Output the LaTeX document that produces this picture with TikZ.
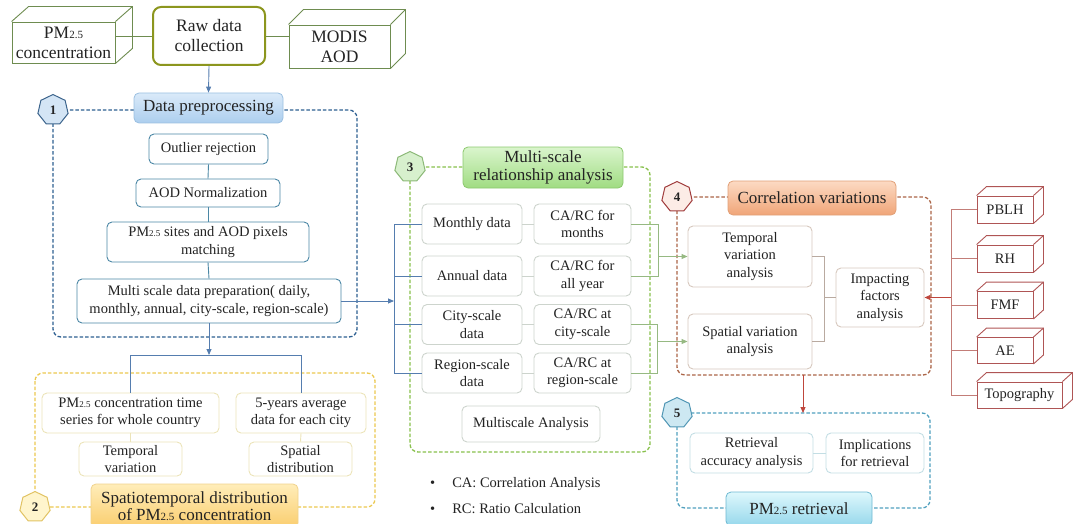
\documentclass[tikz,border=0pt]{standalone}
\usepackage{fontspec}
\setmainfont{Liberation Serif}
\usetikzlibrary{shapes.geometric,arrows.meta,calc}

\definecolor{txt}{RGB}{35,35,35}
\definecolor{c1}{RGB}{45,95,145}
\definecolor{b1c}{RGB}{75,135,165}
\definecolor{bl}{RGB}{85,125,175}
\definecolor{h1t}{RGB}{218,234,249}
\definecolor{h1b}{RGB}{172,206,238}
\definecolor{h1d}{RGB}{155,192,225}
\definecolor{x1f}{RGB}{212,229,245}
\definecolor{x1d}{RGB}{60,100,140}
\definecolor{c2}{RGB}{235,200,80}
\definecolor{b2c}{RGB}{236,228,185}
\definecolor{h2t}{RGB}{255,237,185}
\definecolor{h2b}{RGB}{250,205,110}
\definecolor{h2d}{RGB}{240,210,140}
\definecolor{x2f}{RGB}{255,245,205}
\definecolor{x2d}{RGB}{225,195,100}
\definecolor{c3}{RGB}{135,192,75}
\definecolor{b3c}{RGB}{205,212,205}
\definecolor{h3t}{RGB}{218,245,205}
\definecolor{h3b}{RGB}{160,220,130}
\definecolor{h3d}{RGB}{140,200,110}
\definecolor{x3f}{RGB}{215,240,205}
\definecolor{x3d}{RGB}{140,185,120}
\definecolor{gl}{RGB}{150,185,130}
\definecolor{c4}{RGB}{170,100,70}
\definecolor{b4c}{RGB}{215,200,190}
\definecolor{h4t}{RGB}{252,218,195}
\definecolor{h4b}{RGB}{240,165,120}
\definecolor{h4d}{RGB}{225,160,120}
\definecolor{x4f}{RGB}{252,236,230}
\definecolor{x4d}{RGB}{160,60,60}
\definecolor{brl}{RGB}{185,170,160}
\definecolor{fc}{RGB}{175,85,85}
\definecolor{rl}{RGB}{195,125,120}
\definecolor{rd}{RGB}{190,70,60}
\definecolor{c5}{RGB}{80,160,190}
\definecolor{b5c}{RGB}{195,222,228}
\definecolor{h5t}{RGB}{222,248,252}
\definecolor{h5b}{RGB}{150,215,235}
\definecolor{h5d}{RGB}{110,185,210}
\definecolor{x5f}{RGB}{205,232,242}
\definecolor{x5d}{RGB}{80,150,180}
\definecolor{olv}{RGB}{140,150,30}
\definecolor{cgr}{RGB}{110,140,80}

\newcommand{\pms}[1]{PM{\fontsize{#1}{#1}\selectfont 2.5}}
\newcommand{\boxdepth}[4]{%
  \draw[#4] (#1.north west) -- ++(#2,-#3) -- ($(#1.north east)+(#2,-#3)$) -- ($(#1.south east)+(#2,-#3)$) -- (#1.south east);
  \draw[#4] (#1.north east) -- ++(#2,-#3);}

\tikzset{
  base/.style={rounded corners=5pt, align=center, inner sep=1pt, fill=white, text=txt,
    font=\fontsize{14.5}{17.5}\selectfont, line width=0.9pt},
  bA/.style={base, draw=b1c},
  bB/.style={base, draw=b2c},
  bC/.style={base, draw=b3c},
  bD/.style={base, draw=b4c},
  bE/.style={base, draw=b5c},
  hdr/.style={rounded corners=5pt, align=center, inner sep=1pt, text=txt,
    font=\fontsize{17}{18.5}\selectfont, line width=0.8pt},
  hex/.style={regular polygon, regular polygon sides=7, minimum size=31pt, inner sep=0pt,
    line width=1pt, font=\bfseries\fontsize{13}{13}\selectfont, text=txt},
  cont/.style={dash pattern=on 3.5pt off 2pt, line width=1.3pt, rounded corners=8pt},
  tip/.style={-{Triangle[length=6pt,width=5pt]}},
  ln/.style={line width=0.9pt},
  cube/.style={draw=#1, line width=0.9pt, inner sep=1pt, align=center, text=txt},
}

\begin{document}
\begin{tikzpicture}[x=1pt,y=-1pt]
\useasboundingbox (0,0) rectangle (1081,524);
\clip (0,0) rectangle (1081,524);

% ---------- containers ----------
\draw[cont, draw=c1] (53,110) rectangle (357,337);
\draw[cont, draw=c2] (35,373) rectangle (375,507);
\draw[cont, draw=c3] (410,167) rectangle (650,452);
\draw[cont, draw=c4] (677,197) rectangle (931,375);
\draw[cont, draw=c5] (677,413) rectangle (930,508);

% ---------- top row ----------
\node[cube=cgr, minimum width=103pt, minimum height=41pt, font=\fontsize{17.5}{20}\selectfont] (pm) at (63.5,42.5) {\pms{11}\\concentration};
\boxdepth{pm}{17}{15}{cgr, line width=0.9pt}
\node[draw=olv, line width=2pt, rounded corners=8pt, fill=white, align=center, text=txt,
  minimum width=112pt, minimum height=58pt, inner sep=1pt, font=\fontsize{17.5}{20}\selectfont] (raw) at (209,36) {Raw data\\collection};
\node[cube=cgr, minimum width=101pt, minimum height=43pt, font=\fontsize{17.5}{20}\selectfont] (modis) at (339.5,46.5) {MODIS\\AOD};
\boxdepth{modis}{15}{15}{cgr, line width=0.9pt}

% ---------- block 1 ----------
\node[hdr, draw=h1d, top color=h1t, bottom color=h1b, minimum width=149pt, minimum height=30pt] (hdr1) at (208.5,108) {Data preprocessing};
\node[hex, draw=x1d, fill=x1f] (hx1) at (53,110) {1};
\node[bA, minimum width=119pt, minimum height=30pt] (out) at (208.5,149) {Outlier rejection};
\node[bA, minimum width=144pt, minimum height=28pt] (aod) at (208,193) {AOD Normalization};
\node[bA, minimum width=202pt, minimum height=40pt] (match) at (208,242) {\pms{9} sites and AOD pixels\\matching};
\node[bA, minimum width=264pt, minimum height=44pt] (multi) at (209,301) {Multi scale data preparation( daily,\\monthly, annual, city-scale, region-scale)};

% ---------- block 2 ----------
\node[hdr, draw=h2d, top color=h2t, bottom color=h2b, minimum width=207pt, minimum height=44pt,
  font=\fontsize{17}{17}\selectfont] (hdr2) at (194.5,506) {Spatiotemporal distribution\\of \pms{11} concentration};
\node[hex, draw=x2d, fill=x2f] (hx2) at (35,507) {2};
\node[bB, minimum width=177pt, minimum height=40pt] (ts) at (130.5,413) {\pms{9} concentration time\\series for whole country};
\node[bB, minimum width=130pt, minimum height=40pt] (avg) at (301,413) {5-years average\\data for each city};
\node[bB, minimum width=103pt, minimum height=34pt] (tv) at (130.5,459) {Temporal\\variation};
\node[bB, minimum width=103pt, minimum height=34pt] (sd) at (300.5,459) {Spatial\\distribution};

% ---------- block 3 ----------
\node[hdr, draw=h3d, top color=h3t, bottom color=h3b, minimum width=160pt, minimum height=41pt] (hdr3) at (543,167.5) {Multi-scale\\relationship analysis};
\node[hex, draw=x3d, fill=x3f] (hx3) at (410,167) {3};
\node[bC, minimum width=100pt, minimum height=40pt] (md) at (472,224) {Monthly data};
\node[bC, minimum width=97pt, minimum height=40pt] (cm) at (582.5,224) {CA/RC for\\months};
\node[bC, minimum width=100pt, minimum height=40pt] (ad) at (472,276) {Annual data};
\node[bC, minimum width=97pt, minimum height=40pt] (cy) at (582.5,276) {CA/RC for\\all year};
\node[bC, minimum width=100pt, minimum height=40pt] (csd) at (472,324.5) {City-scale\\data};
\node[bC, minimum width=97pt, minimum height=40pt] (cc) at (582.5,324.5) {CA/RC at\\city-scale};
\node[bC, minimum width=100pt, minimum height=40pt] (rsd) at (472,373) {Region-scale\\data};
\node[bC, minimum width=97pt, minimum height=40pt] (cr) at (582.5,373) {CA/RC at\\region-scale};
\node[bC, minimum width=138pt, minimum height=36pt] (ma) at (531,424) {Multiscale Analysis};

\node[anchor=west, inner sep=0pt, text=txt, font=\fontsize{14.5}{17.5}\selectfont] (ca) at (430,484) {\textbullet\hspace{17pt}CA: Correlation Analysis};
\node[anchor=west, inner sep=0pt, text=txt, font=\fontsize{14.5}{17.5}\selectfont] (rc) at (430,509) {\textbullet\hspace{17pt}RC: Ratio Calculation};

% ---------- block 4 ----------
\node[hdr, draw=h4d, top color=h4t, bottom color=h4b, minimum width=168pt, minimum height=34pt] (hdr4) at (812,198) {Correlation variations};
\node[hex, draw=x4d, fill=x4f] (hx4) at (677,197) {4};
\node[bD, minimum width=124pt, minimum height=61pt] (tva) at (750,256.5) {Temporal\\variation\\analysis};
\node[bD, minimum width=124pt, minimum height=55pt] (sva) at (750,341.5) {Spatial variation\\analysis};
\node[bD, minimum width=88pt, minimum height=59pt] (ifa) at (880,297.5) {Impacting\\factors\\analysis};

% ---------- factors ----------
\node[cube=fc, minimum width=56pt, minimum height=27pt, font=\fontsize{14.5}{17.5}\selectfont] (pblh) at (1005,209.5) {PBLH};
\boxdepth{pblh}{10}{9}{fc, line width=0.9pt}
\node[cube=fc, minimum width=56pt, minimum height=27pt, font=\fontsize{14.5}{17.5}\selectfont] (rh) at (1005,258.5) {RH};
\boxdepth{rh}{10}{9}{fc, line width=0.9pt}
\node[cube=fc, minimum width=56pt, minimum height=27pt, font=\fontsize{14.5}{17.5}\selectfont] (fmf) at (1005,305) {FMF};
\boxdepth{fmf}{10}{9}{fc, line width=0.9pt}
\node[cube=fc, minimum width=56pt, minimum height=26pt, font=\fontsize{14.5}{17.5}\selectfont] (ae) at (1005,350.5) {AE};
\boxdepth{ae}{10}{9}{fc, line width=0.9pt}
\node[cube=fc, minimum width=85pt, minimum height=26pt, font=\fontsize{14.5}{17.5}\selectfont] (topo) at (1019.5,395) {Topography};
\boxdepth{topo}{10}{9}{fc, line width=0.9pt}

% ---------- block 5 ----------
\node[hdr, draw=h5d, top color=h5t, bottom color=h5b, minimum width=146pt, minimum height=34pt] (hdr5) at (799,509) {\pms{11} retrieval};
\node[hex, draw=x5d, fill=x5f] (hx5) at (677,413) {5};
\node[bE, minimum width=123pt, minimum height=40pt] (raa) at (751.5,453) {Retrieval\\accuracy analysis};
\node[bE, minimum width=98pt, minimum height=40pt] (ifr) at (875,453) {Implications\\for retrieval};

% ---------- coordinates ----------
\coordinate (sp) at (209,355);
\coordinate (lbx) at (394,0);
\coordinate (rbx1) at (658,0);
\coordinate (rbx2) at (657,0);
\coordinate (cbx) at (824,0);
\coordinate (fbx) at (951,0);
\coordinate (c4b) at (803,375);
\coordinate (c5t) at (803,413);

% ---------- connectors ----------
\draw[ln, draw=cgr] (pm.east |- raw.west) -- (raw.west);
\draw[ln, draw=cgr] (raw.east) -- (raw.east -| modis.west);
\draw[ln, draw=bl, tip] (raw.south) -- (hdr1.north);

\draw[ln, draw=b1c] (out.south) -- (aod.north);
\draw[ln, draw=b1c] (aod.south) -- (match.north);
\draw[ln, draw=b1c] (match.south) -- (multi.north);
\draw[ln, draw=bl, tip] (multi.south) -- (sp);
\draw[ln, draw=bl] (ts.north |- sp) -- (avg.north |- sp);
\draw[ln, draw=bl] (ts.north |- sp) -- (ts.north);
\draw[ln, draw=bl] (avg.north |- sp) -- (avg.north);
\draw[ln, draw=b2c] (ts.south) -- (tv.north);
\draw[ln, draw=b2c] (avg.south) -- (sd.north);

\draw[ln, draw=bl, tip] (multi.east) -- (multi.east -| lbx);
\draw[ln, draw=bl] (md.west -| lbx) -- (rsd.west -| lbx);
\draw[ln, draw=bl] (md.west -| lbx) -- (md.west);
\draw[ln, draw=bl] (ad.west -| lbx) -- (ad.west);
\draw[ln, draw=bl] (csd.west -| lbx) -- (csd.west);
\draw[ln, draw=bl] (rsd.west -| lbx) -- (rsd.west);

\draw[ln, draw=b3c] (md.east) -- (cm.west);
\draw[ln, draw=b3c] (ad.east) -- (cy.west);
\draw[ln, draw=b3c] (csd.east) -- (cc.west);
\draw[ln, draw=b3c] (rsd.east) -- (cr.west);

\draw[ln, draw=gl] (cm.east) -- (cm.east -| rbx1) -- (cy.east -| rbx1) -- (cy.east);
\draw[ln, draw=gl, tip] (tva.west -| rbx1) -- (tva.west);
\draw[ln, draw=gl] (cc.east) -- (cc.east -| rbx2) -- (cr.east -| rbx2) -- (cr.east);
\draw[ln, draw=gl, tip] (sva.west -| rbx2) -- (sva.west);

\draw[ln, draw=brl] (tva.east) -- (tva.east -| cbx) -- (sva.east -| cbx) -- (sva.east);
\draw[ln, draw=brl] (ifa.west -| cbx) -- (ifa.west);

\draw[ln, draw=rl] (pblh.west -| fbx) -- (topo.west -| fbx);
\draw[ln, draw=rl] (pblh.west -| fbx) -- (pblh.west);
\draw[ln, draw=rl] (rh.west -| fbx) -- (rh.west);
\draw[ln, draw=rl] (fmf.west -| fbx) -- (fmf.west);
\draw[ln, draw=rl] (ae.west -| fbx) -- (ae.west);
\draw[ln, draw=rl] (topo.west -| fbx) -- (topo.west);
\draw[ln, draw=rd, tip] (ifa.east -| fbx) -- (ifa.east);

\draw[ln, draw=rd, tip] (c4b) -- (c5t);
\draw[ln, draw=b5c] (raa.east) -- (ifr.west);
\end{tikzpicture}
\end{document}
